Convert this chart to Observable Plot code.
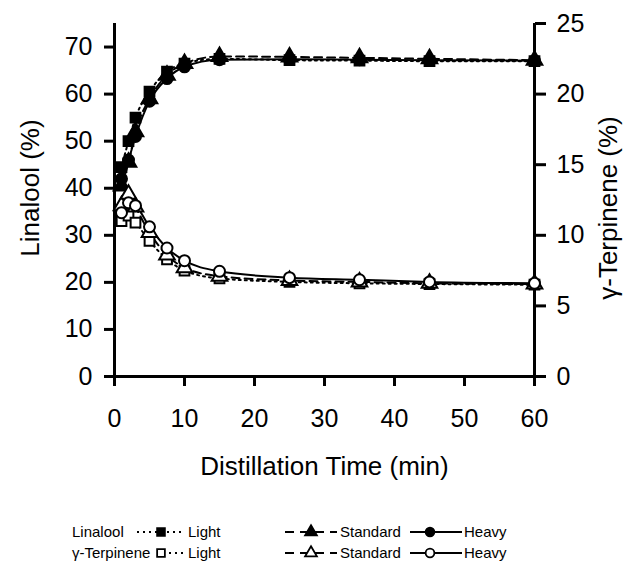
<!DOCTYPE html>
<html>
<head>
<meta charset="utf-8">
<script src="https://cdn.jsdelivr.net/npm/d3@7"></script>
<script src="https://cdn.jsdelivr.net/npm/@observablehq/plot@0.6"></script>
<style>
  html, body { margin: 0; padding: 0; background: #fff; }
  #chart { width: 628px; height: 569px; position: relative; }
  svg { display: block; }
</style>
</head>
<body>
<div id="chart"></div>
<script>
// ---- data ----
const times = [1, 2, 3, 5, 7.5, 10, 15, 25, 35, 45, 60];
const linaloolLight    = [44.5, 50.0, 55.0, 60.5, 64.8, 66.5, 67.5, 67.2, 67.1, 67.0, 67.0];
const linaloolStandard = [40.5, 45.5, 52.0, 59.0, 64.0, 66.5, 68.0, 67.9, 67.7, 67.5, 67.2];
const linaloolHeavy    = [42.0, 46.0, 51.0, 58.5, 63.3, 65.8, 67.3, 67.4, 67.3, 67.2, 67.1];
const terpLight    = [11.0, 11.4, 10.9, 9.6, 8.3, 7.5, 6.95, 6.7, 6.6, 6.55, 6.5];
const terpStandard = [12.1, 12.9, 12.0, 10.2, 8.6, 7.7, 7.1, 6.8, 6.7, 6.6, 6.55];
const terpHeavy    = [11.6, 12.3, 12.1, 10.6, 9.1, 8.2, 7.45, 7.0, 6.85, 6.7, 6.6];
const xTicks = [0, 10, 20, 30, 40, 50, 60];
const leftTicks = [0, 10, 20, 30, 40, 50, 60, 70];
const rightTicks = [0, 5, 10, 15, 20, 25];
const leftMax = 75, rightMax = 25;
const xLabel = "Distillation Time (min)";
const leftLabel = "Linalool (%)";
const rightLabel = "γ-Terpinene (%)";

const k = leftMax / rightMax;
const mk = (vals, scale) => times.map((t, i) => ({t, v: vals[i] * scale}));

const series = [
  {data: mk(linaloolLight, 1),    dash: "2,4", symbol: "square",   fill: "black"},
  {data: mk(linaloolStandard, 1), dash: "8,5", symbol: "triangle", fill: "black"},
  {data: mk(linaloolHeavy, 1),    dash: null,  symbol: "circle",   fill: "black"},
  {data: mk(terpLight, k),        dash: "2,4", symbol: "square",   fill: "white"},
  {data: mk(terpStandard, k),     dash: "8,5", symbol: "triangle", fill: "white"},
  {data: mk(terpHeavy, k),        dash: null,  symbol: "circle",   fill: "white"}
];

const marks = [];
for (const s of series) {
  marks.push(Plot.line(s.data, {x: "t", y: "v", stroke: "black", strokeWidth: 2,
    strokeDasharray: s.dash, curve: "monotone-x"}));
}
for (const s of series) {
  marks.push(Plot.dot(s.data, {x: "t", y: "v", symbol: s.symbol, r: s.symbol === "triangle" ? 5.8 : 5.5,
    fill: s.fill, stroke: "black", strokeWidth: 2}));
}

const plot = Plot.plot({
  width: 628,
  height: 500,
  marginLeft: 114,
  marginRight: 94,
  marginTop: 23,
  marginBottom: 124,
  style: {fontFamily: "'Liberation Sans', Arial, sans-serif", fontSize: "25px", color: "black", background: "white"},
  x: {domain: [0, 60]},
  y: {domain: [0, leftMax]},
  symbol: {legend: false},
  marks: [
    Plot.axisX({ticks: xTicks, tickSize: 10, tickPadding: 23, strokeWidth: 3, label: null, fontSize: 25}),
    Plot.axisY({ticks: leftTicks, anchor: "left", tickSize: 10, tickPadding: 12, strokeWidth: 3, label: null, fontSize: 25}),
    Plot.axisY(rightTicks.map(v => v * k), {anchor: "right", tickFormat: d => d / k, tickSize: 11, tickPadding: 11, strokeWidth: 3, label: null, fontSize: 25}),
    Plot.ruleY([0], {strokeWidth: 3}),
    Plot.ruleX([0], {strokeWidth: 3}),
    Plot.ruleX([60], {strokeWidth: 3}),
    ...marks,
    Plot.text([xLabel], {frameAnchor: "bottom", dy: 98, fontSize: 26}),
    Plot.text([leftLabel], {frameAnchor: "left", textAnchor: "middle", rotate: -90, dx: -84, dy: -12, fontSize: 26}),
    Plot.text([rightLabel], {frameAnchor: "right", textAnchor: "middle", rotate: -90, dx: 74, dy: 8, fontSize: 26})
  ]
});
document.getElementById("chart").appendChild(plot);

// ---- legend (below the plot) ----
const legendRows = [
  {name: "Linalool", fill: "black", y: 32},
  {name: "γ-Terpinene", fill: "white", y: 53}
];
const legendItems = [
  {label: "Light", symbol: d3.symbolSquare, dash: "2,4", x1: 137, x2: 185, sx: 161, tx: 188},
  {label: "Standard", symbol: d3.symbolTriangle, dash: "9,6", x1: 285, x2: 337, sx: 311, tx: 340},
  {label: "Heavy", symbol: d3.symbolCircle, dash: null, x1: 410, x2: 462, sx: 430, tx: 464}
];
const lg = d3.create("svg").attr("width", 628).attr("height", 69)
  .style("font-family", "'Liberation Sans', Arial, sans-serif").style("font-size", "15px");
legendRows.forEach((row, ri) => {
  lg.append("text").attr("x", 72).attr("y", row.y).attr("dy", "0.35em").text(row.name);
  legendItems.forEach(it => {
    const x1 = (ri === 1 && it.label === "Light") ? 157 : it.x1;
    lg.append("line").attr("x1", x1).attr("x2", it.x2).attr("y1", row.y).attr("y2", row.y)
      .attr("stroke", "black").attr("stroke-width", 2).attr("stroke-dasharray", it.dash);
    lg.append("path").attr("d", d3.symbol(it.symbol, 60)())
      .attr("transform", `translate(${it.sx},${row.y})`)
      .attr("fill", row.fill).attr("stroke", "black").attr("stroke-width", 1.8);
    lg.append("text").attr("x", it.tx).attr("y", row.y).attr("dy", "0.35em").text(it.label);
  });
});
document.getElementById("chart").appendChild(lg.node());
</script>
</body>
</html>
